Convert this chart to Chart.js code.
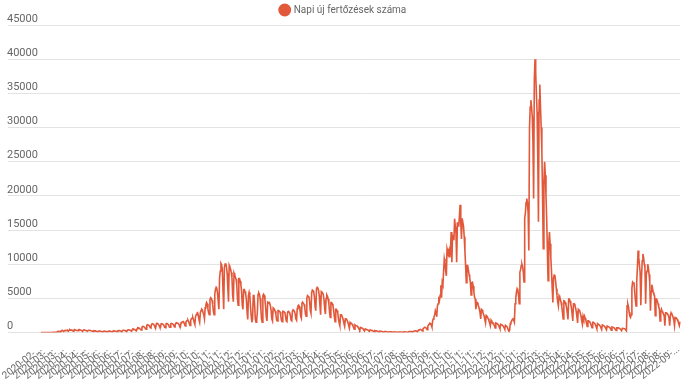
<!DOCTYPE html>
<html>
<head>
<meta charset="utf-8">
<script src="https://cdn.jsdelivr.net/npm/chart.js@4"></script>
<style>
  html, body { margin: 0; padding: 0; background: #fff; }
  #wrap { width: 695px; height: 385px; }
</style>
</head>
<body>
<div id="wrap"><canvas id="chart"></canvas></div>
<script>
// napi adatok 2020-02-26-tól, soronként kb. egy hét
const startDate = [2020, 1, 26];
const seriesLabel = 'Napi új fertőzések száma';
const labelStep = 16;

// 2020-02-26 .. 2021-01-07
const cases1 = [
  1,0,1,0,0,1,0,
  1,0,3,2,3,2,4,
  7,9,12,15,21,17,26,
  40,45,62,96,190,120,145,
  186,162,263,308,293,157,251,
  300,330,280,250,300,190,320,
  430,350,320,340,290,200,360,
  440,370,340,320,280,250,400,
  420,380,350,300,240,230,380,
  390,350,310,280,220,200,330,320,
  320,290,260,230,180,170,270,
  260,240,210,190,150,140,220,
  220,200,180,160,120,110,190,
  200,180,170,150,110,100,180,
  210,200,180,160,120,110,200,
  250,230,210,190,140,130,250,
  290,280,260,230,170,160,290,
  330,320,300,260,200,180,340,
  400,390,360,310,230,210,420,
  520,500,450,400,300,280,560,
  700,680,630,560,420,380,780,
  900,880,830,750,560,500,1050,
  1150,1120,1050,950,700,650,1200,
  1300,1250,1180,1050,780,700,1280,
  1350,1300,1200,1050,800,750,1300,
  1300,1250,1150,1000,780,720,1250,
  1320,1280,1200,1050,800,760,1300,
  1350,1300,1250,1100,850,800,1350,1380,
  1400,1350,1300,1150,900,850,1450,
  1500,1550,1600,1450,1200,950,1500,
  1700,1750,1800,1600,1300,1050,1800,
  2000,2100,2200,1900,1500,1200,2300,
  2600,2800,2900,2500,1900,1500,2900,
  3200,3400,3300,2900,2600,2000,3600,
  4000,4400,4200,3500,2900,2600,4800,
  5100,5000,4700,4100,3100,2600,5600,
  6300,6600,6400,5800,4500,3400,8000,
  9000,10100,9900,9200,6000,3400,9500,
  10000,10100,9600,8700,6500,4500,9800,
  9500,9300,8800,8000,5500,4500,8700,
  8400,8100,7800,7000,5000,4000,7900,
  7900,7500,7000,6000,4000,3400,6300,
  6300,6000,5600,4800,3000,1900,5400,
  5900,5400,3800,2400,1500,2000,5400,
  5500,4000,2000,1500,1800,3000,5600
];

// 2021-01-08 .. 2021-09-11
const cases2 = [
  5800,5600,5000,3500,2000,1500,5400,
  5600,5400,4800,3700,2200,1700,4400,4300,
  4400,4200,3900,3200,2000,1700,3600,
  3500,3300,3100,2600,1800,1700,3200,
  3200,3100,3000,2500,1800,1600,3100,
  3100,3000,2900,2400,1700,1600,3000,
  3100,3000,2900,2500,1800,1700,3100,
  3300,3200,3100,2700,2000,1800,3500,
  3900,4000,3800,3300,2400,2100,4300,
  4400,4300,4100,3600,2700,2400,5000,
  5400,5300,5200,4500,3200,2800,5800,
  6200,6100,5900,5200,3800,3200,6400,
  6600,6500,6200,5400,4000,2600,6000,
  5900,5800,5500,4700,3400,2700,5000,
  5500,5300,4900,4200,3000,2200,4400,
  4400,4200,3900,3200,2300,1600,3400,
  3400,3200,2800,2000,1400,1000,2600,
  2600,2400,2200,1800,1300,900,2000,
  2000,1900,1700,1400,1000,700,1500,
  1400,1300,1200,1000,700,500,1100,1000,
  1000,950,850,700,500,350,750,
  700,650,600,500,350,250,550,
  500,450,420,350,250,180,400,
  350,320,300,250,180,120,280,
  260,240,220,180,130,90,200,
  190,180,160,130,90,60,150,
  140,130,120,100,70,45,110,
  110,100,95,80,55,35,90,
  90,85,80,65,45,30,80,
  85,80,75,60,40,30,80,
  95,90,85,70,50,35,100,
  130,140,150,130,100,70,170,
  220,240,260,230,180,130,300,
  380,420,460,420,330,230,550,
  650,720,780,720,580,400,900
];

// 2021-09-12 .. 2022-01-23
const cases3 = [
  1100,1200,1350,1300,1100,800,1700,
  2000,2300,2600,3200,2900,2300,3900,
  4200,4900,4700,5500,6900,5100,7350,
  7000,9000,10800,10200,9000,8300,12250,11800,
  11500,12000,11000,12000,14700,10300,14200,
  14200,13500,16660,15500,14500,10300,16000,
  16000,15500,17000,18700,16000,13700,16700,
  16700,15500,14000,12000,9800,7300,9800,
  9800,9200,8500,8000,7300,5500,7300,
  7350,6800,6000,5200,4900,3400,4400,
  4400,4100,3800,3400,2900,2000,3400,
  3300,3000,2700,2400,1900,1400,2500,
  2400,2200,2000,1700,1400,1000,1800,
  1600,1500,1400,1200,950,650,1400,
  1350,1300,1200,1050,800,550,1200,
  1150,1100,1000,900,700,480,1050,
  950,900,700,400,250,300,1300,
  1500,1700,1900,2000,1800,1500,4200,
  5000,5900,6400,6200,5500,4200,8800
];

// 2022-01-24 .. 2022-09-13
const cases4 = [
  9200,9800,10000,9600,8800,7400,16700,
  17500,19000,19600,19000,17500,12000,30000,
  33000,34000,33000,31600,28000,19600,37000,
  40000,38000,35000,32300,26000,16200,34000,
  36300,33000,30000,26500,20000,12250,22000,
  25000,23000,20000,16700,12000,7600,13000,
  14700,13000,11000,9000,6500,4400,8000,8400,
  8300,7500,6400,5400,4500,3900,5400,
  5200,4800,4400,3800,2900,2000,4650,
  4600,4400,4100,3600,2800,1900,4900,
  4900,4600,4200,3600,2700,1700,4200,
  4200,4000,3600,3100,2300,1400,3400,
  3400,3200,2800,2400,1700,1200,2400,
  2000,2400,2100,1800,1300,900,1700,
  1700,1600,1500,1300,1000,700,1500,
  1500,1400,1300,1100,850,550,1300,
  1200,1150,1050,900,700,450,1100,
  1050,1000,900,800,600,400,950,
  900,850,800,700,520,350,820,
  780,740,680,600,450,300,700,700,
  680,650,600,520,400,260,620,
  620,600,560,500,380,250,3900,
  4200,3800,3000,2400,2200,2600,6500,
  7350,7200,7350,6000,4800,3900,7350,
  9500,12000,11000,9800,8800,4000,8000,
  10500,11500,11000,10000,9500,4200,8500,
  9000,10000,9500,8500,7350,3200,6000,
  7000,6500,5900,5600,5400,2450,4900,
  4900,4600,4200,3800,3400,1700,2900,
  3400,3100,2900,2700,2400,1000,2900,
  2900,2800,2700,2500,2100,1000,2500,
  2900,2700,2500,2200,1800,1000,2200,
  2200,2100,1900,1700,1300,1000,1600
];

const yMax = 45000;
const yStep = 5000;

const dailyCases = [...cases1, ...cases2, ...cases3, ...cases4];
const labels = dailyCases.map((_, i) =>
  new Date(Date.UTC(startDate[0], startDate[1], startDate[2] + i)).toISOString().slice(0, 10)
);

const lineColor = '#e2583a';
const textColor = '#666';

const ctx = document.getElementById('chart').getContext('2d');
new Chart(ctx, {
  type: 'line',
  data: {
    labels: labels,
    datasets: [{
      label: seriesLabel,
      data: dailyCases,
      borderColor: lineColor,
      backgroundColor: lineColor,
      borderWidth: 1.6,
      pointRadius: 0,
      pointHoverRadius: 0,
      tension: 0,
      fill: false
    }]
  },
  options: {
    responsive: true,
    maintainAspectRatio: false,
    animation: false,
    layout: { padding: { left: 7, right: 15, top: 0, bottom: 0 } },
    plugins: {
      legend: {
        labels: {
          usePointStyle: true,
          pointStyle: 'circle',
          boxWidth: 8,
          boxHeight: 8,
          padding: 5,
          color: textColor,
          font: { family: 'Roboto', size: 10 }
        }
      },
      tooltip: { enabled: false }
    },
    scales: {
      x: {
        grid: { display: false },
        border: { display: false },
        ticks: {
          autoSkip: false,
          minRotation: 38,
          maxRotation: 38,
          padding: 3,
          color: textColor,
          font: { family: 'Roboto', size: 10 },
          callback: function(value, index) {
            return index % labelStep === 0 ? labels[index].slice(0, 8) + '...' : null;
          }
        }
      },
      y: {
        min: 0,
        max: yMax,
        border: { display: false },
        grid: { color: '#e3e3e3', tickLength: 33 },
        ticks: {
          stepSize: yStep,
          crossAlign: 'far',
          padding: -15,
          labelOffset: -6,
          color: textColor,
          font: { family: 'Roboto', size: 11 },
          callback: (value) => String(value)
        }
      }
    }
  }
});
</script>
</body>
</html>
